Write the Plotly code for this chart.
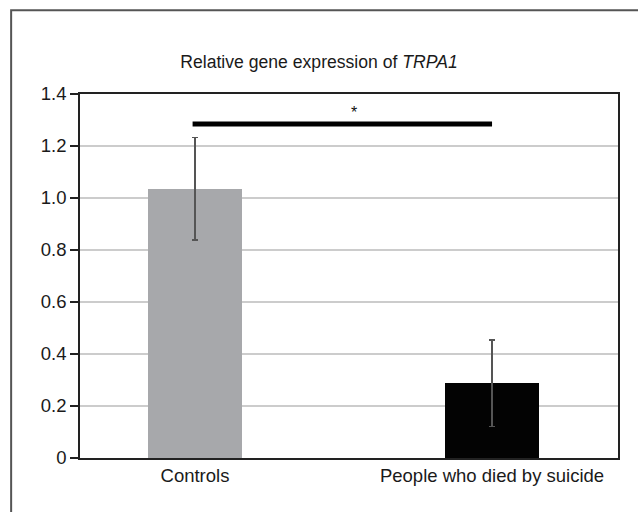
import plotly.graph_objects as go

categories = ["Controls", "People who died by suicide"]
means = [1.035, 0.287]
errors = [0.197, 0.166]
bar_colors = ["#a7a8ab", "#030303"]
y_tick_vals = [0, 0.2, 0.4, 0.6, 0.8, 1.0, 1.2, 1.4]
y_tick_text = ["0", "0.2", "0.4", "0.6", "0.8", "1.0", "1.2", "1.4"]
sig_y = 1.285
sig_label = "*"

FONT = "Liberation Sans, Arial, sans-serif"

fig = go.Figure()
fig.add_trace(go.Bar(
    x=[0, 1],
    y=means,
    width=0.318,
    marker=dict(color=bar_colors, line=dict(width=0)),
    error_y=dict(type="data", array=errors, visible=True, color="#555555",
                 thickness=1.5, width=3),
    showlegend=False,
))

# significance bracket
fig.add_shape(type="line", xref="x", yref="y", x0=-0.008, x1=1.0,
              y0=sig_y, y1=sig_y, line=dict(color="#000000", width=5))
fig.add_annotation(x=0.535, y=sig_y, xref="x", yref="y", text=sig_label,
                   showarrow=False, yshift=11,
                   font=dict(family=FONT, size=16, color="#111111"))

# outer frame
fig.add_shape(type="rect", xref="paper", yref="paper",
              x0=-0.128, x1=1.06, y0=-0.25, y1=1.23,
              line=dict(color="#555555", width=2), layer="below")

fig.update_layout(
    width=638, height=512,
    margin=dict(l=80, r=20, t=94, b=54),
    paper_bgcolor="white", plot_bgcolor="white",
    title=dict(text="Relative gene expression of <i>TRPA1</i>",
               x=0.5, xref="container", xanchor="center",
               y=1 - 62 / 512, yref="container", yanchor="middle",
               font=dict(family=FONT, size=17.6, color="#1a1a1a")),
    font=dict(family=FONT, size=18, color="#1a1a1a"),
    bargap=0,
    xaxis=dict(
        tickmode="array", tickvals=[0, 1], ticktext=categories,
        range=[-0.387, 1.424], showgrid=False, zeroline=False,
        showline=True, linecolor="#222222", linewidth=1.5, mirror=True,
        ticks="", tickfont=dict(family=FONT, size=18.5, color="#1a1a1a"),
    ),
    yaxis=dict(
        range=[0, 1.4], tickmode="array", tickvals=y_tick_vals,
        ticktext=y_tick_text, showgrid=True, gridcolor="#cccccc",
        gridwidth=2, zeroline=False, showline=True, linecolor="#222222",
        linewidth=1.5, mirror=True, ticks="outside", ticklen=8,
        tickcolor="#222222", tickwidth=1.5,
        tickfont=dict(family=FONT, size=18.5, color="#1a1a1a"),
    ),
)

fig.write_html("out.html")
